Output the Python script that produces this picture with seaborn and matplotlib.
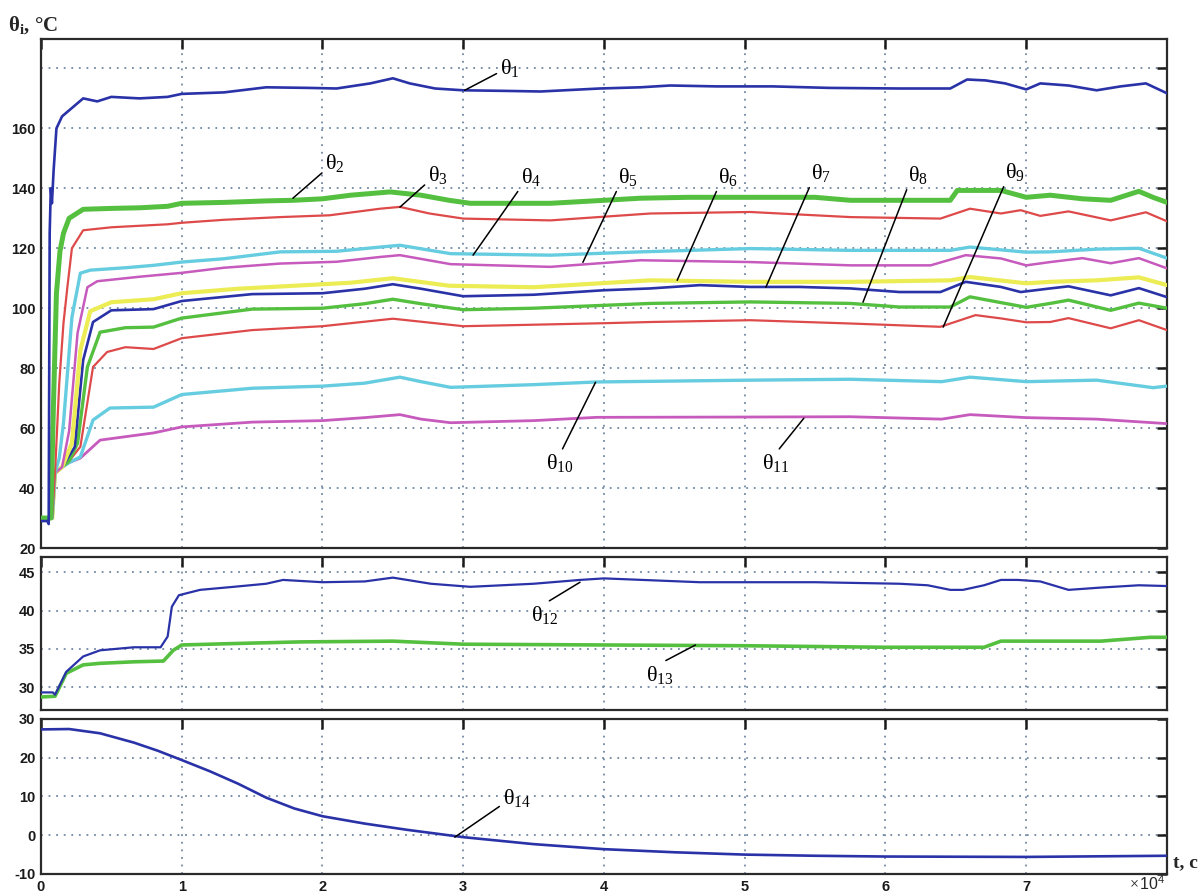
import matplotlib
matplotlib.use("Agg")
import matplotlib.pyplot as plt
import pandas as pd
import seaborn as sns

# ---------------- data (time in units of 10^4 s) ----------------
t1 = [0, 0.045, 0.055, 0.062, 0.07, 0.078, 0.09, 0.11, 0.15, 0.2, 0.25, 0.3, 0.4, 0.5, 0.7, 0.9, 1.0, 1.3, 1.6, 1.9,
      2.1, 2.34, 2.5, 2.62, 2.8, 3.0, 3.3, 3.55, 3.97, 4.26, 4.47, 4.8, 5.2, 5.6, 6.1, 6.46, 6.58, 6.71, 6.85, 7.0,
      7.1, 7.3, 7.5, 7.67, 7.85, 8.0]
v1 = [29, 29, 28, 125, 140, 135, 146, 160, 164, 166, 168, 170, 169, 170.5, 170, 170.5, 171.5, 172, 173.7, 173.5,
      173.3, 175, 176.7, 175, 173.3, 172.7, 172.5, 172.3, 173.3, 173.7, 174.3, 174, 174, 173.5, 173.3, 173.3, 176.3,
      176, 175, 173, 175, 174.3, 172.7, 174, 175, 171.7]

t2 = [0, 0.07, 0.09, 0.11, 0.135, 0.16, 0.2, 0.3, 0.5, 0.7, 0.9, 1.0, 1.3, 1.6, 1.79, 2.0, 2.2, 2.48, 2.7, 2.9,
      3.05, 3.62, 4.0, 4.26, 4.6, 5.04, 5.5, 5.75, 6.1, 6.46, 6.51, 6.82, 7.0, 7.17, 7.4, 7.6, 7.8, 7.9, 8.0]
v2 = [30, 30, 70, 105, 119, 125, 130, 133, 133.3, 133.5, 134, 135, 135.3, 135.8, 136, 136.5, 137.7, 138.8, 137.7,
      136, 135, 135, 136, 136.7, 137, 137, 137, 136, 136, 136, 139.3, 139.3, 137, 137.7, 136.5, 136, 139, 137, 135.3]

t3 = [0, 0.08, 0.1, 0.13, 0.16, 0.19, 0.22, 0.3, 0.5, 0.7, 0.9, 1.0, 1.3, 1.7, 2.05, 2.41, 2.55, 2.76, 3.0, 3.62,
      4.33, 5.04, 5.75, 6.39, 6.6, 6.82, 6.96, 7.1, 7.3, 7.6, 7.85, 8.0]
v3 = [30, 30, 45, 75, 95, 108, 120, 126, 127, 127.5, 128, 128.5, 129.5, 130.4, 131, 133.2, 133.8, 131.6, 129.9,
      129.3, 131.6, 132.1, 130.4, 129.9, 133.2, 131.6, 132.7, 130.8, 132.3, 129.3, 132, 129]

t4 = [0, 0.08, 0.1, 0.13, 0.16, 0.22, 0.28, 0.35, 0.6, 0.8, 1.0, 1.3, 1.7, 2.1, 2.41, 2.55, 2.91, 3.62, 4.26, 5.04,
      5.75, 6.46, 6.6, 7.0, 7.17, 7.5, 7.8, 8.0]
v4 = [30, 30, 45, 50, 61.7, 97, 111.7, 112.7, 113.5, 114.3, 115.4, 116.5, 118.8, 119, 120.4, 121, 118.2, 117.7,
      118.8, 119.9, 119.3, 119.3, 120.4, 118.7, 118.8, 119.7, 120, 116.7]

t5 = [0, 0.08, 0.1, 0.15, 0.2, 0.26, 0.33, 0.4, 0.7, 1.0, 1.3, 1.7, 2.1, 2.41, 2.55, 2.91, 3.62, 4.26, 5.04, 5.75,
      6.32, 6.57, 6.82, 7.0, 7.17, 7.4, 7.6, 7.8, 8.0]
v5 = [30, 30, 45, 47, 59, 91.7, 107, 109, 110.5, 111.8, 113.5, 114.9, 115.5, 117.1, 117.7, 114.7, 113.8, 116,
      115.4, 114.3, 114.3, 117.7, 116.6, 114.3, 115.4, 116.7, 115, 116.7, 113.3]

t6 = [0, 0.08, 0.1, 0.15, 0.22, 0.28, 0.35, 0.5, 0.8, 1.0, 1.4, 1.8, 2.2, 2.5, 2.9, 3.5, 4.33, 5.04, 5.75, 6.46,
      6.6, 7.0, 7.17, 7.5, 7.8, 8.0]
v6 = [30, 30, 45, 47, 55, 86, 99, 102, 103, 105, 106.5, 107.5, 108.5, 110, 107.5, 107, 109.3, 108.8, 108.8, 109.3,
      110.4, 108.3, 108.8, 109.3, 110.3, 107.7]

t7 = [0, 0.08, 0.1, 0.15, 0.24, 0.3, 0.37, 0.5, 0.8, 1.0, 1.5, 2.0, 2.3, 2.5, 2.7, 3.0, 3.5, 4.0, 4.33, 4.68,
      5.04, 5.39, 5.75, 6.1, 6.39, 6.57, 6.82, 6.96, 7.17, 7.3, 7.6, 7.8, 8.0]
v7 = [30, 30, 45, 47, 53.7, 82.7, 95.4, 99.3, 99.7, 102.4, 104.7, 105, 106.5, 108, 106.5, 104, 104.5, 106, 106.6,
      107.7, 107.1, 107.1, 106.6, 105.4, 105.4, 108.8, 107.1, 105.4, 106.6, 107.3, 104.3, 106.7, 103.7]

t8 = [0, 0.08, 0.1, 0.15, 0.2, 0.26, 0.33, 0.42, 0.6, 0.8, 1.0, 1.5, 2.0, 2.3, 2.5, 2.7, 3.0, 3.5, 4.33, 5.04,
      5.75, 6.1, 6.46, 6.6, 7.0, 7.17, 7.3, 7.6, 7.8, 8.0]
v8 = [30, 30, 45, 47, 49, 55, 80.4, 92, 93.5, 93.7, 96.7, 99.7, 100, 101.5, 103, 101.5, 99.5, 100, 101.6, 102.1,
      101.6, 100.4, 100.4, 103.8, 100.3, 101.6, 102.7, 99.3, 101.7, 100]

t9 = [0, 0.08, 0.1, 0.15, 0.2, 0.28, 0.37, 0.47, 0.6, 0.8, 1.0, 1.5, 2.0, 2.3, 2.5, 2.7, 3.0, 3.5, 4.0, 4.33,
      5.04, 5.75, 6.39, 6.64, 6.82, 7.0, 7.17, 7.3, 7.6, 7.8, 8.0]
v9 = [30, 30, 45, 47, 49, 53.8, 80.4, 85.4, 87, 86.4, 90, 92.7, 94, 95.5, 96.5, 95.5, 94, 94.5, 95, 95.4,
      96, 94.9, 93.8, 97.7, 96.6, 95.3, 95.4, 96.7, 93.3, 96, 92.7]

t10 = [0, 0.08, 0.1, 0.15, 0.2, 0.28, 0.37, 0.49, 0.8, 1.0, 1.5, 2.0, 2.3, 2.55, 2.7, 2.91, 3.5, 3.95, 5.04, 5.75,
       6.4, 6.6, 7.0, 7.5, 7.9, 8.0]
v10 = [30, 30, 45, 47, 48.5, 50.4, 62.7, 66.7, 67, 71.2, 73.3, 74, 75, 77, 75.5, 73.6, 74.5, 75.4, 76, 76.3,
       75.5, 77, 75.5, 76, 73.5, 74]

t11 = [0, 0.08, 0.1, 0.15, 0.2, 0.28, 0.42, 0.8, 1.0, 1.5, 2.0, 2.3, 2.55, 2.7, 2.91, 3.5, 3.95, 5.0, 5.75, 6.4,
       6.6, 7.0, 7.5, 8.0]
v11 = [30, 30, 45, 47, 48.5, 50, 56, 58.4, 60.4, 62, 62.5, 63.5, 64.5, 63, 61.8, 62.5, 63.6, 63.7, 63.8, 63,
       64.5, 63.5, 63, 61.5]

t12 = [0, 0.085, 0.1, 0.18, 0.3, 0.42, 0.54, 0.66, 0.85, 0.9, 0.93, 0.98, 1.13, 1.37, 1.6, 1.72, 2.0, 2.3, 2.5,
       2.77, 3.05, 3.5, 3.83, 4.0, 4.68, 5.0, 5.5, 6.1, 6.3, 6.46, 6.55, 6.7, 6.82, 6.94, 7.1, 7.3, 7.53, 7.8, 8.0]
v12 = [29.3, 29.3, 29.0, 32, 34, 34.8, 35, 35.2, 35.2, 36.6, 40.5, 42, 42.7, 43.1, 43.5, 44, 43.7, 43.8, 44.3,
       43.5, 43.1, 43.5, 44, 44.2, 43.7, 43.7, 43.7, 43.5, 43.3, 42.7, 42.7, 43.3, 44, 44, 43.8, 42.7, 43, 43.3, 43.2]

t13 = [0, 0.1, 0.18, 0.3, 0.42, 0.66, 0.87, 0.94, 1.0, 1.4, 1.84, 2.5, 3.0, 4.0, 5.0, 6.0, 6.7, 6.82, 7.53, 7.88, 8.0]
v13 = [28.7, 28.8, 31.8, 32.9, 33.1, 33.3, 33.4, 34.8, 35.5, 35.7, 35.9, 36, 35.6, 35.5, 35.4, 35.2, 35.2, 36, 36,
       36.5, 36.5]

t14 = [0, 0.2, 0.42, 0.66, 0.83, 1.0, 1.2, 1.4, 1.6, 1.8, 2.0, 2.3, 2.6, 3.0, 3.5, 4.0, 4.5, 5.0, 5.5, 6.0, 7.0, 8.0]
v14 = [27.3, 27.4, 26.3, 23.9, 21.8, 19.4, 16.5, 13.3, 9.7, 6.9, 4.9, 3.0, 1.4, -0.5, -2.3, -3.6, -4.4, -5.0, -5.3,
       -5.5, -5.6, -5.3]

x_ticks = [0, 1, 2, 3, 4, 5, 6, 7]
x_ticklabels = ["0", "1", "2", "3", "4", "5", "6", "7"]
top_yticks = [20, 40, 60, 80, 100, 120, 140, 160, 180]
top_yticklabels = ["20", "40", "60", "80", "100", "120", "140", "160", ""]
mid_yticks = [30, 35, 40, 45]
bot_yticks = [-10, 0, 10, 20, 30]

# ---------------- style ----------------
sns.set_theme(style="white")
plt.rcParams["font.family"] = ["Liberation Sans", "DejaVu Sans"]
plt.rcParams["axes.unicode_minus"] = False
plt.rcParams["mathtext.fontset"] = "custom"
plt.rcParams["mathtext.rm"] = "Liberation Serif"
plt.rcParams["mathtext.it"] = "Liberation Serif:italic"
plt.rcParams["mathtext.bf"] = "Liberation Serif:bold"
plt.rcParams["mathtext.sf"] = "Liberation Sans"
plt.rcParams["mathtext.default"] = "rm"

BLUE = "#2a32a8"
GREEN = "#55c040"
RED = "#de4a4a"
CYAN = "#66cde0"
MAG = "#c65abd"
YEL = "#ecec55"

fig = plt.figure(figsize=(12.01, 8.94), dpi=100)
fig.patch.set_facecolor("white")
ax1 = fig.add_axes([0.0341, 0.387, 0.9376, 0.569])
ax2 = fig.add_axes([0.0341, 0.2058, 0.9376, 0.1712])
ax3 = fig.add_axes([0.0341, 0.0224, 0.9376, 0.1734])


def draw(ax, t, v, color, lw):
    df = pd.DataFrame({"t": t, "v": v})
    sns.lineplot(data=df, x="t", y="v", ax=ax, color=color, linewidth=lw,
                 estimator=None, sort=False, zorder=3)


top_series = [
    (t11, v11, MAG, 2.0), (t10, v10, CYAN, 2.4), (t9, v9, RED, 1.6), (t8, v8, GREEN, 2.4),
    (t7, v7, BLUE, 1.9), (t6, v6, YEL, 3.0), (t5, v5, MAG, 1.8), (t4, v4, CYAN, 2.4),
    (t3, v3, RED, 1.6), (t2, v2, GREEN, 3.6), (t1, v1, BLUE, 1.9),
]
for t, v, c, lw in top_series:
    draw(ax1, t, v, c, lw)
draw(ax2, t13, v13, GREEN, 2.6)
draw(ax2, t12, v12, BLUE, 1.6)
draw(ax3, t14, v14, BLUE, 1.9)

for ax in (ax1, ax2, ax3):
    ax.set_xlim(0, 8)
    ax.set_xticks(x_ticks)
    ax.set_xticklabels(x_ticklabels)
    ax.set_xlabel("")
    ax.set_ylabel("")
    ax.tick_params(direction="in", length=7, width=1.8, top=True, right=True,
                   labelsize=10.5, pad=4, colors="#1a1a1a")
    ax.grid(True, linestyle=(0, (1, 3.2)), color="#7088a2", linewidth=1.3, zorder=0)
    ax.set_axisbelow(True)
    for s in ax.spines.values():
        s.set_linewidth(1.6)
        s.set_color("#2a2a2a")
    ax.set_facecolor("white")

ax1.set_ylim(20, 189.7)
ax1.set_yticks(top_yticks)
ax1.set_yticklabels(top_yticklabels, fontweight="bold")
ax1.tick_params(labelbottom=False)
ax2.set_ylim(27, 47)
ax2.set_yticks(mid_yticks)
ax2.set_yticklabels([str(v) for v in mid_yticks], fontweight="bold")
ax2.tick_params(labelbottom=False)
ax3.set_ylim(-10, 30)
ax3.set_yticks(bot_yticks)
ax3.set_yticklabels([str(v) for v in bot_yticks], fontweight="bold")
ax3.set_xticklabels(x_ticklabels, fontweight="bold")

# ---------------- curve labels ----------------
ann_kw = dict(fontsize=16, color="black", ha="center", va="center")
line_kw = dict(arrowstyle="-", color="black", lw=1.1, shrinkA=0, shrinkB=0)

top_labels = [
    (r"$\theta_{1}$", (3.01, 172.7), (3.33, 180.3), (0.0, 0.3)),
    (r"$\theta_{2}$", (1.79, 136.7), (2.09, 148.3), (0.0, 0.2)),
    (r"$\theta_{3}$", (2.55, 133.7), (2.82, 144.3), (0.0, 0.2)),
    (r"$\theta_{4}$", (3.07, 117.7), (3.48, 143.7), (0.05, 0.1)),
    (r"$\theta_{5}$", (3.85, 115.3), (4.17, 143.7), (0.05, 0.1)),
    (r"$\theta_{6}$", (4.52, 109.3), (4.88, 143.7), (0.05, 0.1)),
    (r"$\theta_{7}$", (5.15, 107.0), (5.54, 145.0), (0.05, 0.1)),
    (r"$\theta_{8}$", (5.84, 102.0), (6.23, 144.3), (0.05, 0.1)),
    (r"$\theta_{9}$", (6.41, 93.7), (6.92, 145.3), (0.05, 0.1)),
    (r"$\theta_{10}$", (3.94, 75.3), (3.69, 48.3), (0.5, 0.95)),
    (r"$\theta_{11}$", (5.42, 63.3), (5.22, 48.3), (0.5, 0.95)),
]
for txt, xy, xyt, rp in top_labels:
    ax1.annotate(txt, xy=xy, xytext=xyt, textcoords="data",
                 arrowprops=dict(relpos=rp, **line_kw), **ann_kw)

ax2.annotate(r"$\theta_{12}$", xy=(3.83, 43.7), xytext=(3.58, 39.4), textcoords="data",
             arrowprops=dict(relpos=(0.4, 0.95), **line_kw), **ann_kw)
ax2.annotate(r"$\theta_{13}$", xy=(4.65, 35.5), xytext=(4.40, 31.6), textcoords="data",
             arrowprops=dict(relpos=(0.4, 0.95), **line_kw), **ann_kw)
ax3.annotate(r"$\theta_{14}$", xy=(2.94, -0.5), xytext=(3.38, 9.7), textcoords="data",
             arrowprops=dict(relpos=(0.0, 0.2), **line_kw), **ann_kw)

# ---------------- axis titles ----------------
fig.text(0.007, 0.972, r"$\mathbf{\theta_{i}}$" + ", °C", fontsize=15, ha="left", va="center",
         family=["Liberation Serif", "DejaVu Serif"], fontweight="bold")
fig.text(0.977, 0.035, "t, c", fontsize=14, ha="left", va="center",
         family=["Liberation Serif", "DejaVu Serif"], fontweight="bold")
fig.text(0.971, 0.001, r"$\times\,\mathsf{10^{4}}$", fontsize=11.5, ha="right", va="bottom")

fig.savefig("out.png", dpi=100, facecolor="white")
